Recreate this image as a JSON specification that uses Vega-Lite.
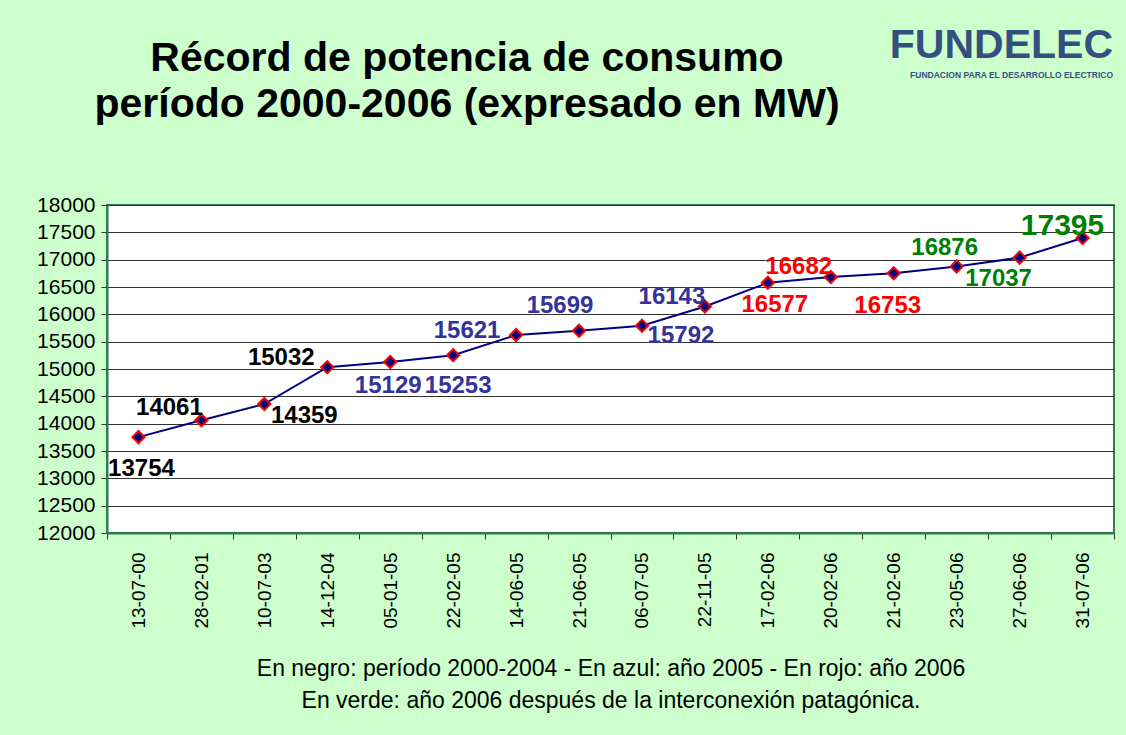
{
  "$schema": "https://vega.github.io/schema/vega-lite/v6.json",
  "background": "#CCFFCC",
  "padding": {"left": 35, "top": 24, "right": 14, "bottom": 22},
  "config": {
    "font": "Liberation Sans",
    "view": {"fill": "#FFFFFF", "stroke": "#2E7D4F", "strokeWidth": 2},
    "text": {"fontSize": 24, "fontWeight": "bold", "align": "center", "baseline": "alphabetic"}
  },
  "spacing": 41,
  "vconcat": [
    {
      "spacing": 43,
      "hconcat": [
        {
          "width": 720,
          "height": 0,
          "view": {"fill": null, "stroke": null},
          "title": {
            "text": ["Récord de potencia de consumo", "período 2000-2006 (expresado en MW)"],
            "font": "Liberation Sans",
            "fontSize": 41,
            "fontWeight": "bold",
            "lineHeight": 46,
            "color": "#000000",
            "anchor": "middle",
            "frame": "group",
            "offset": 6
          },
          "data": {"values": []},
          "mark": {"type": "text"}
        },
        {
          "width": 230,
          "height": 0,
          "view": {"fill": null, "stroke": null},
          "title": {
            "text": "FUNDELEC",
            "subtitle": "FUNDACION PARA EL DESARROLLO ELECTRICO",
            "anchor": "end",
            "frame": "group",
            "font": "Liberation Sans",
            "fontSize": 41,
            "fontWeight": "bold",
            "color": "#34507F",
            "subtitleFont": "Liberation Sans",
            "subtitleFontSize": 8.5,
            "subtitleFontWeight": "bold",
            "subtitleColor": "#34507F",
            "subtitlePadding": 4,
            "offset": 52
          },
          "data": {"values": []},
          "mark": {"type": "text"}
        }
      ]
    },
    {
      "width": 1007,
      "height": 328,
      "data": {
        "values": [
          {"fecha": "13-07-00", "mw": 13754, "periodo": "2000-2004"},
          {"fecha": "28-02-01", "mw": 14061, "periodo": "2000-2004"},
          {"fecha": "10-07-03", "mw": 14359, "periodo": "2000-2004"},
          {"fecha": "14-12-04", "mw": 15032, "periodo": "2000-2004"},
          {"fecha": "05-01-05", "mw": 15129, "periodo": "2005"},
          {"fecha": "22-02-05", "mw": 15253, "periodo": "2005"},
          {"fecha": "14-06-05", "mw": 15621, "periodo": "2005"},
          {"fecha": "21-06-05", "mw": 15699, "periodo": "2005"},
          {"fecha": "06-07-05", "mw": 15792, "periodo": "2005"},
          {"fecha": "22-11-05", "mw": 16143, "periodo": "2005"},
          {"fecha": "17-02-06", "mw": 16577, "periodo": "2006"},
          {"fecha": "20-02-06", "mw": 16682, "periodo": "2006"},
          {"fecha": "21-02-06", "mw": 16753, "periodo": "2006"},
          {"fecha": "23-05-06", "mw": 16876, "periodo": "2006 interconexión"},
          {"fecha": "27-06-06", "mw": 17037, "periodo": "2006 interconexión"},
          {"fecha": "31-07-06", "mw": 17395, "periodo": "2006 interconexión"}
        ]
      },
      "encoding": {
        "x": {
          "field": "fecha",
          "type": "nominal",
          "sort": null,
          "scale": {"paddingInner": 0, "paddingOuter": 0},
          "axis": {
            "title": ["En negro: período 2000-2004 - En azul: año 2005 - En rojo: año 2006", "En verde: año 2006 después de la interconexión patagónica."],
            "titleFont": "Liberation Sans",
            "titleFontSize": 23,
            "titleFontWeight": "normal",
            "titleColor": "#000000",
            "titleLineHeight": 32,
            "titlePadding": 29,
            "labelAngle": 270,
            "labelAlign": "right",
            "labelBaseline": "middle",
            "labelFontSize": 19,
            "labelColor": "#000000",
            "labelPadding": 13,
            "tickSize": 6,
            "tickColor": "#333333",
            "tickBand": "extent",
            "domainColor": "#2E7D4F",
            "domainWidth": 2,
            "grid": false
          }
        },
        "y": {
          "field": "mw",
          "type": "quantitative",
          "scale": {"domain": [12000, 18000], "nice": false, "zero": false},
          "axis": {
            "title": null,
            "values": [12000, 12500, 13000, 13500, 14000, 14500, 15000, 15500, 16000, 16500, 17000, 17500, 18000],
            "format": "d",
            "labelFontSize": 21,
            "labelColor": "#000000",
            "labelPadding": 6,
            "tickSize": 6,
            "tickColor": "#333333",
            "domainColor": "#2E7D4F",
            "domainWidth": 2,
            "grid": true,
            "gridColor": "#333333",
            "gridWidth": 1
          }
        }
      },
      "layer": [
        {"mark": {"type": "line", "color": "#000080", "strokeWidth": 2}},
        {"mark": {"type": "point", "shape": "diamond", "filled": true, "fill": "#000080", "stroke": "#FF0000", "strokeWidth": 2, "size": 150, "opacity": 1}},
        {
          "encoding": {
            "text": {"field": "mw", "type": "quantitative", "format": "d"},
            "color": {
              "field": "periodo",
              "type": "nominal",
              "scale": {"domain": ["2000-2004", "2005", "2006", "2006 interconexión"], "range": ["#000000", "#333399", "#FF0000", "#008000"]},
              "legend": null
            }
          },
          "layer": [
            {"transform": [{"filter": {"field": "fecha", "equal": "13-07-00"}}], "mark": {"type": "text", "dx": 3, "dy": 39}},
            {"transform": [{"filter": {"field": "fecha", "equal": "28-02-01"}}], "mark": {"type": "text", "dx": -32, "dy": -5}},
            {"transform": [{"filter": {"field": "fecha", "equal": "10-07-03"}}], "mark": {"type": "text", "dx": 40, "dy": 19}},
            {"transform": [{"filter": {"field": "fecha", "equal": "14-12-04"}}], "mark": {"type": "text", "dx": -46, "dy": -2}},
            {"transform": [{"filter": {"field": "fecha", "equal": "05-01-05"}}], "mark": {"type": "text", "dx": -2, "dy": 31}},
            {"transform": [{"filter": {"field": "fecha", "equal": "22-02-05"}}], "mark": {"type": "text", "dx": 5, "dy": 38}},
            {"transform": [{"filter": {"field": "fecha", "equal": "14-06-05"}}], "mark": {"type": "text", "dx": -49, "dy": 3}},
            {"transform": [{"filter": {"field": "fecha", "equal": "21-06-05"}}], "mark": {"type": "text", "dx": -19, "dy": -18}},
            {"transform": [{"filter": {"field": "fecha", "equal": "06-07-05"}}], "mark": {"type": "text", "dx": 39, "dy": 17}},
            {"transform": [{"filter": {"field": "fecha", "equal": "22-11-05"}}], "mark": {"type": "text", "dx": -33, "dy": -3}},
            {"transform": [{"filter": {"field": "fecha", "equal": "17-02-06"}}], "mark": {"type": "text", "dx": 7, "dy": 29}},
            {"transform": [{"filter": {"field": "fecha", "equal": "20-02-06"}}], "mark": {"type": "text", "dx": -32, "dy": -3}},
            {"transform": [{"filter": {"field": "fecha", "equal": "21-02-06"}}], "mark": {"type": "text", "dx": -6, "dy": 40}},
            {"transform": [{"filter": {"field": "fecha", "equal": "23-05-06"}}], "mark": {"type": "text", "dx": -12, "dy": -11}},
            {"transform": [{"filter": {"field": "fecha", "equal": "27-06-06"}}], "mark": {"type": "text", "dx": -21, "dy": 28}},
            {"transform": [{"filter": {"field": "fecha", "equal": "31-07-06"}}], "mark": {"type": "text", "dx": -20, "dy": -3, "fontSize": 30}}
          ]
        }
      ]
    }
  ]
}
